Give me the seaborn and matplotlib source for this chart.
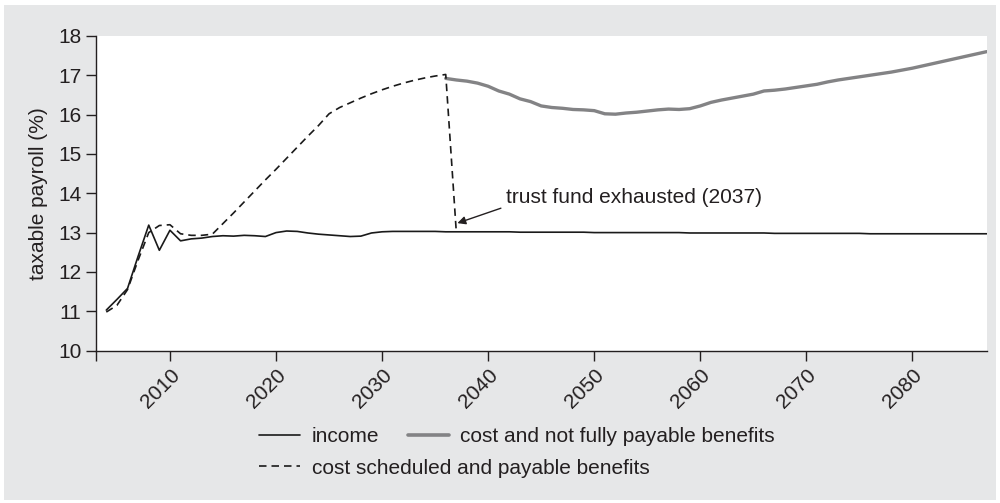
import matplotlib
matplotlib.use("Agg")
import matplotlib.pyplot as plt
from matplotlib.patches import Rectangle
from matplotlib.lines import Line2D
import seaborn as sns
import pandas as pd

# Social Security income and cost rates, % of taxable payroll
income_years = list(range(2004, 2088))
income = [
    11.03, 11.30, 11.58, 12.40, 13.19, 12.55, 13.06, 12.79, 12.84, 12.86,
    12.90, 12.92, 12.91, 12.93, 12.92, 12.90, 13.00, 13.04, 13.03, 12.99,
    12.96, 12.94, 12.92, 12.90, 12.91, 12.99, 13.02, 13.03, 13.03, 13.03,
    13.03, 13.03, 13.02, 13.02, 13.02, 13.02, 13.02, 13.02, 13.02, 13.01,
    13.01, 13.01, 13.01, 13.01, 13.01, 13.01, 13.00, 13.00, 13.00, 13.00,
    13.00, 13.00, 13.00, 13.00, 13.00, 12.99, 12.99, 12.99, 12.99, 12.99,
    12.99, 12.99, 12.99, 12.98, 12.98, 12.98, 12.98, 12.98, 12.98, 12.98,
    12.98, 12.98, 12.97, 12.97, 12.97, 12.97, 12.97, 12.97, 12.97, 12.97,
    12.97, 12.97, 12.97, 12.97,
]

scheduled_years = list(range(2004, 2038))
scheduled = [
    10.98, 11.15, 11.55, 12.30, 13.00, 13.18, 13.20, 12.97, 12.93, 12.93,
    12.96, 13.23, 13.50, 13.78, 14.06, 14.34, 14.61, 14.89, 15.17, 15.45,
    15.72, 16.02, 16.18, 16.30, 16.42, 16.53, 16.63, 16.72, 16.80, 16.87,
    16.93, 16.98, 17.02, 13.00,
]

unfunded_years = list(range(2036, 2088))
unfunded = [
    16.92, 16.88, 16.85, 16.80, 16.72, 16.60, 16.52, 16.40, 16.33, 16.22,
    16.18, 16.16, 16.13, 16.12, 16.10, 16.02, 16.01, 16.04, 16.06, 16.09,
    16.12, 16.14, 16.13, 16.15, 16.22, 16.31, 16.37, 16.42, 16.47, 16.52,
    16.60, 16.62, 16.65, 16.69, 16.73, 16.77, 16.83, 16.88, 16.92, 16.96,
    17.00, 17.04, 17.08, 17.13, 17.18, 17.24, 17.30, 17.36, 17.42, 17.48,
    17.54, 17.60,
]

x_ticks = [2010, 2020, 2030, 2040, 2050, 2060, 2070, 2080]
y_ticks = [10, 11, 12, 13, 14, 15, 16, 17, 18]

label_income = "income"
label_scheduled = "cost scheduled and payable benefits"
label_unfunded = "cost and not fully payable benefits"
annotation_text = "trust fund exhausted (2037)"
exhaustion_year = 2037

sns.set_theme(style="white")
plt.rcParams["font.family"] = ["Liberation Sans", "DejaVu Sans"]
FS = 15
INK = "#231f20"
BG = "#e6e7e8"

fig = plt.figure(figsize=(10, 5.03), dpi=100, facecolor="white")
fig.patches.append(Rectangle((0.004, 0.006), 0.992, 0.984, transform=fig.transFigure,
                             facecolor=BG, edgecolor="none", zorder=-10))
ax = fig.add_axes([0.0957, 0.303, 0.891, 0.6256])
ax.set_facecolor("white")

df_income = pd.DataFrame({"year": income_years, "value": income})
df_sched = pd.DataFrame({"year": scheduled_years, "value": scheduled})
df_unf = pd.DataFrame({"year": unfunded_years, "value": unfunded})

sns.lineplot(data=df_unf, x="year", y="value", ax=ax, color="#838385",
             linewidth=2.4, zorder=2)
sns.lineplot(data=df_income, x="year", y="value", ax=ax, color="#1a1a1a",
             linewidth=1.2, zorder=3)
sns.lineplot(data=df_sched, x="year", y="value", ax=ax, color="#1a1a1a",
             linewidth=1.2, linestyle=(0, (4.5, 3)), zorder=4)

ax.set_xlim(2003, 2087)
ax.set_ylim(10, 18)
ax.set_xticks([2003] + x_ticks)
ax.set_xticklabels([""] + [str(t) for t in x_ticks], rotation=45, ha="right",
                   rotation_mode="anchor", fontsize=FS, color=INK)
ax.set_yticks(y_ticks)
ax.set_yticklabels([str(t) for t in y_ticks], fontsize=FS, color=INK)
ax.set_xlabel("")
ax.set_ylabel("taxable payroll (%)", fontsize=FS, color=INK, labelpad=7)

for side in ("top", "right"):
    ax.spines[side].set_visible(False)
for side in ("left", "bottom"):
    ax.spines[side].set_color(INK)
    ax.spines[side].set_linewidth(1.0)
ax.tick_params(axis="both", which="major", direction="out", length=7.2,
               width=1.0, color=INK, bottom=True, left=True, pad=3.2)

# arrow and its label are placed separately so the arrow tail sits left of the text
ax.annotate("", xy=(exhaustion_year + 0.1, 13.24),
            xytext=(exhaustion_year + 4.2, 13.62),
            arrowprops=dict(arrowstyle="-|>", color=INK, lw=1.0,
                            mutation_scale=12, shrinkA=0, shrinkB=0))
ax.text(exhaustion_year + 4.65, 13.88, annotation_text, fontsize=FS, color=INK,
        ha="left", va="center")

h_income = Line2D([], [], color="#1a1a1a", linewidth=1.2)
h_unf = Line2D([], [], color="#838385", linewidth=2.6)
h_sched = Line2D([], [], color="#1a1a1a", linewidth=1.2, linestyle=(0, (4.5, 3)))

common = dict(frameon=False, fontsize=FS, handlelength=1.97, handletextpad=0.55,
              borderpad=0, borderaxespad=0, labelcolor=INK, loc="center left",
              bbox_transform=fig.transFigure)
entries = [
    (h_income, label_income, 0.259, 437),
    (h_unf, label_unfunded, 0.4077, 437),
    (h_sched, label_scheduled, 0.259, 468),
]
for handle, text, x0, ypix in entries:
    fig.legend([handle], [text], bbox_to_anchor=(x0, 1 - ypix / 503), **common)

fig.savefig("out.png", dpi=100, facecolor=fig.get_facecolor())
